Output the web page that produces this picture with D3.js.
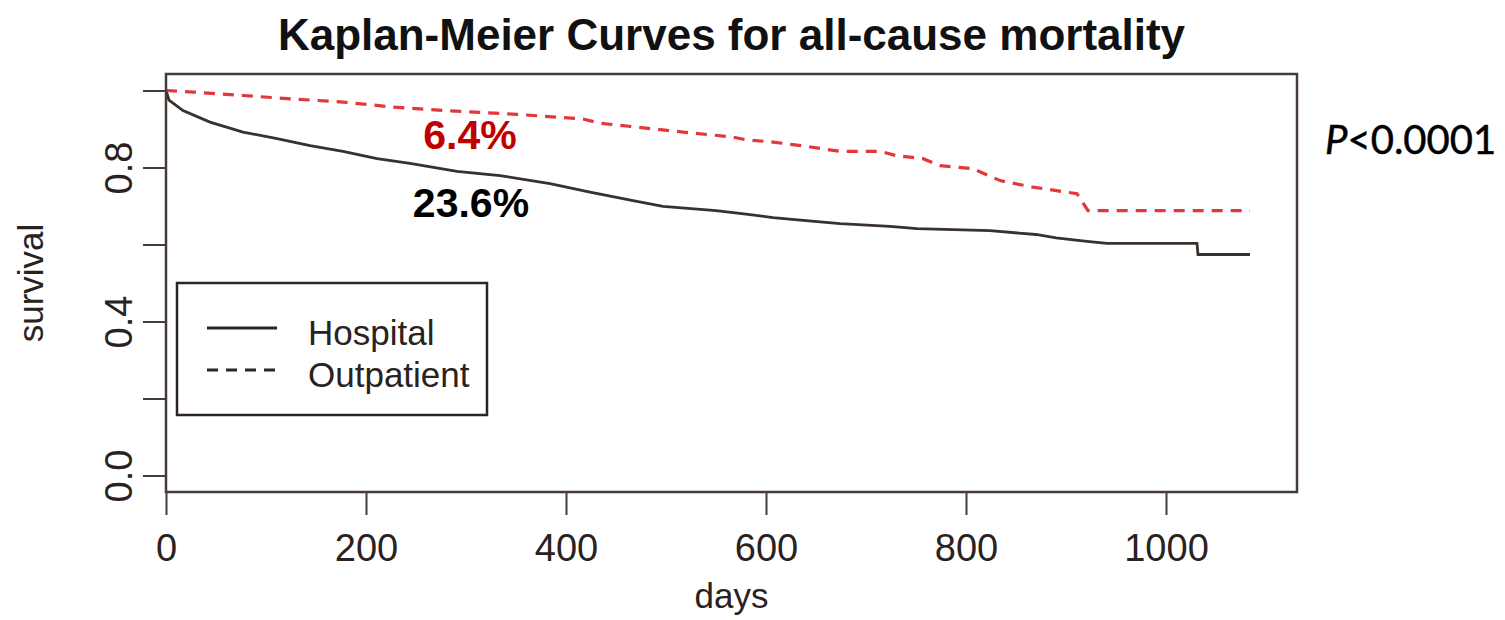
<!DOCTYPE html>
<html>
<head>
<meta charset="utf-8">
<script src="https://cdn.jsdelivr.net/npm/d3@7"></script>
<style>
  body { margin: 0; background: #fff; }
  svg { display: block; font-family: "Liberation Sans", Arial, sans-serif; }
</style>
</head>
<body>
<div id="km-canvas"></div>
<script>
// survival curves (days, survival)
const hospitalDays = [0, 3, 17, 44, 77, 111, 144, 177, 211, 244, 291, 334, 384, 424, 467, 497, 550, 580, 607, 640, 674, 724, 751, 824, 870, 890, 921, 941, 1031, 1032, 1084]
const hospitalSurv = [1.0, 0.975, 0.948, 0.918, 0.892, 0.875, 0.857, 0.842, 0.823, 0.811, 0.790, 0.779, 0.758, 0.736, 0.714, 0.699, 0.688, 0.679, 0.670, 0.662, 0.654, 0.647, 0.641, 0.636, 0.626, 0.617, 0.608, 0.603, 0.603, 0.574, 0.574]
const outpatientDays = [0, 27, 77, 127, 177, 227, 277, 351, 417, 434, 467, 517, 567, 580, 607, 640, 674, 714, 730, 757, 774, 807, 834, 867, 911, 922, 1084]
const outpatientSurv = [1.0, 0.996, 0.987, 0.978, 0.970, 0.957, 0.948, 0.938, 0.926, 0.915, 0.906, 0.892, 0.879, 0.872, 0.866, 0.855, 0.842, 0.842, 0.831, 0.823, 0.805, 0.797, 0.766, 0.749, 0.732, 0.688, 0.688]

const xTicks = [0, 200, 400, 600, 800, 1000]
const yTicks = [0, 0.2, 0.4, 0.6, 0.8, 1.0]
const yLabelled = [0, 0.4, 0.8]
const seriesNames = ['Hospital', 'Outpatient']
const mortalityLabels = ['23.6%', '6.4%']

const W = 1505, H = 620
const box = { left: 166, right: 1297, top: 74, bottom: 492 }
const axisColor = '#463b36'

const svg = d3.select('#km-canvas')
    .append('svg')
    .attr('width', W)
    .attr('height', H)

const x = d3.scaleLinear().domain([0, 1000]).range([166, 1166])
const y = d3.scaleLinear().domain([0, 1]).range([475.5, 90.5])

// title
svg.append('text')
    .attr('x', (box.left + box.right) / 2)
    .attr('y', 50)
    .attr('text-anchor', 'middle')
    .attr('font-size', 44)
    .attr('font-weight', 'bold')
    .attr('fill', '#111')
    .text('Kaplan-Meier Curves for all-cause mortality')

// x axis
const xAxis = svg.append('g')
    .attr('transform', 'translate(0,' + box.bottom + ')')
    .call(d3.axisBottom(x).tickValues(xTicks).tickSize(23).tickFormat(d3.format('d')))
xAxis.select('.domain').remove()
xAxis.selectAll('line').attr('stroke', axisColor).attr('stroke-width', 2)
xAxis.selectAll('text')
    .attr('y', 69).attr('dy', 0)
    .attr('font-size', 38).attr('fill', '#2a2220')
    .attr('font-family', '"Liberation Sans", Arial, sans-serif')

// y axis
const yAxis = svg.append('g')
    .attr('transform', 'translate(' + box.left + ',0)')
    .call(d3.axisLeft(y).tickValues(yTicks).tickSize(23)
        .tickFormat(d => yLabelled.some(v => Math.abs(v - d) < 1e-9) ? d3.format('.1f')(d) : ''))
yAxis.select('.domain').remove()
yAxis.selectAll('line').attr('stroke', axisColor).attr('stroke-width', 2)
yAxis.selectAll('text')
    .attr('x', null).attr('dy', 0)
    .attr('transform', 'translate(-34,0) rotate(-90)')
    .attr('text-anchor', 'middle')
    .attr('font-size', 38).attr('fill', '#2a2220')
    .attr('font-family', '"Liberation Sans", Arial, sans-serif')

// axis titles
svg.append('text')
    .attr('x', (box.left + box.right) / 2)
    .attr('y', 608)
    .attr('text-anchor', 'middle')
    .attr('font-size', 35)
    .attr('fill', '#2a2220')
    .text('days')
svg.append('text')
    .attr('transform', 'translate(43,' + (box.top + box.bottom) / 2 + ') rotate(-90)')
    .attr('text-anchor', 'middle')
    .attr('font-size', 35)
    .attr('fill', '#2a2220')
    .text('survival')

// the curves
const line = d3.line()
    .x(d => x(d[0]))
    .y(d => y(d[1]))

svg.append('path')
    .datum(d3.zip(hospitalDays, hospitalSurv))
    .attr('fill', 'none')
    .attr('stroke', '#3a302c')
    .attr('stroke-width', 2.8)
    .attr('d', line)

svg.append('path')
    .datum(d3.zip(outpatientDays, outpatientSurv))
    .attr('fill', 'none')
    .attr('stroke', '#e2383c')
    .attr('stroke-width', 3.2)
    .attr('stroke-dasharray', '11,8')
    .attr('d', line)

// plot box
svg.append('rect')
    .attr('x', box.left)
    .attr('y', box.top)
    .attr('width', box.right - box.left)
    .attr('height', box.bottom - box.top)
    .attr('fill', 'none')
    .attr('stroke', axisColor)
    .attr('stroke-width', 2.5)

// mortality annotations
svg.append('text')
    .attr('x', 470).attr('y', 149)
    .attr('text-anchor', 'middle')
    .attr('font-size', 41).attr('font-weight', 'bold')
    .attr('fill', '#c00000')
    .text(mortalityLabels[1])
svg.append('text')
    .attr('x', 471).attr('y', 217)
    .attr('text-anchor', 'middle')
    .attr('font-size', 41).attr('font-weight', 'bold')
    .attr('fill', '#000')
    .text(mortalityLabels[0])

// p value
const pText = svg.append('text')
    .attr('x', 1325).attr('y', 154)
    .attr('font-size', 40)
    .attr('font-family', 'Lato, "Open Sans", sans-serif')
    .attr('fill', '#000')
    .attr('stroke', '#000')
    .attr('stroke-width', 0.5)
pText.append('tspan').attr('font-style', 'italic').text('P')
pText.append('tspan').text('<0.0001')

// legend
const legend = svg.append('g')
legend.append('rect')
    .attr('x', 177).attr('y', 283)
    .attr('width', 310).attr('height', 132)
    .attr('fill', '#fff')
    .attr('stroke', '#2e2420')
    .attr('stroke-width', 2.5)
seriesNames.forEach((name, i) => {
    const ly = 328 + i * 42
    legend.append('line')
        .attr('x1', 207).attr('x2', 277)
        .attr('y1', ly).attr('y2', ly)
        .attr('stroke', '#2e2420')
        .attr('stroke-width', 2.8)
        .attr('stroke-dasharray', i === 0 ? null : '11,8')
    legend.append('text')
        .attr('x', 308).attr('y', ly + 17)
        .attr('font-size', 35)
        .attr('fill', '#2a2220')
        .text(name)
})
</script>
</body>
</html>
